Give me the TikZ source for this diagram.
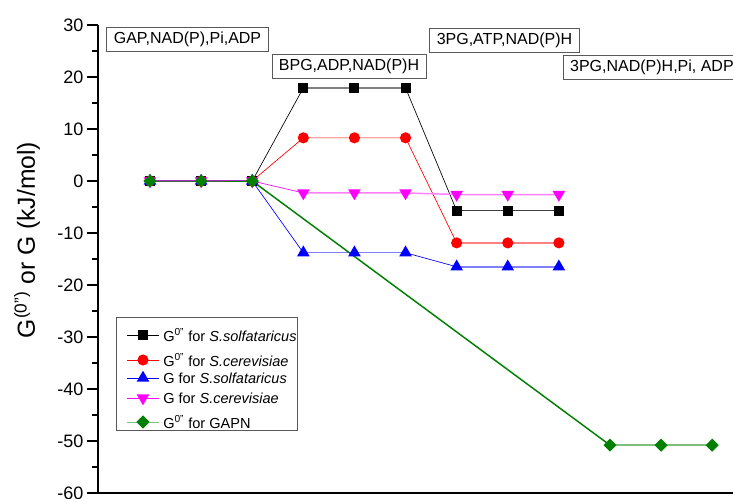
\documentclass[tikz,border=0pt]{standalone}
\usepackage{fontspec}
\setmainfont{Liberation Sans}
\usetikzlibrary{shapes.geometric}

\definecolor{verde}{RGB}{0,128,0}
\definecolor{magenta2}{RGB}{255,0,255}

\tikzset{
  mk/.style={inner sep=0pt, draw=none, fill=#1},
  sqmk/.style={mk=black, rectangle, minimum size=7.5pt},
  cimk/.style={mk=red, circle, minimum size=8.4pt},
  upmk/.style={mk=blue, regular polygon, regular polygon sides=3, minimum size=11pt},
  dnmk/.style={mk=magenta2, regular polygon, regular polygon sides=3, shape border rotate=180, minimum size=11pt},
  dimk/.style={mk=verde, diamond, minimum size=10pt},
  salto/.style={line width=0.5pt, draw=#1},
  nivel/.style={line width=1.1pt, draw=#1!50},
  eje/.style={line width=1.3pt, black},
  numero/.style={inner sep=1pt, font=\fontsize{13.5}{16}\selectfont},
  caja/.style={draw=black!65, line width=0.7pt, inner xsep=5pt, minimum height=18pt,
    font=\fontsize{12}{14}\selectfont},
  leyenda/.style={inner sep=0pt, anchor=west, font=\fontsize{10.9}{12}\selectfont}
}

\begin{document}
\begin{tikzpicture}[
  x=0.75pt,
  y=-0.75pt
]
\useasboundingbox (0,0) rectangle (733,499);
\clip (0,0) rectangle (733,499);

%--------------------
% Ejes
%--------------------
\draw[eje] (98,25) -- (98,493) -- (745,493);
\foreach \v [count=\k] in {-60,-50,...,30} {
  \draw[eje] (98,{181-5.2*\v}) -- (87,{181-5.2*\v});
  \node[numero, anchor=east] (ty\k) at (85,{181-5.2*\v}) {\v};
}
\foreach \v in {-55,-45,...,25} {
  \draw[eje] (98,{181-5.2*\v}) -- (92,{181-5.2*\v});
}
\node[rotate=90, font=\fontsize{18.5}{22}\selectfont] (ylab) at (27,240)
  {G\textsuperscript{(0")} or G (kJ/mol)};

%--------------------
% Datos (indice, kJ/mol)
%--------------------
\begin{scope}[shift={(98.9,181)}, x=38.33pt, y=3.9pt]
\foreach \i/\v in {1/0,2/0,3/0,4/17.9,5/17.9,6/17.9,7/-5.7,8/-5.7,9/-5.7}
  \coordinate (bk\i) at (\i,\v);
\foreach \i/\v in {1/0,2/0,3/0,4/8.3,5/8.3,6/8.3,7/-11.9,8/-11.9,9/-11.9}
  \coordinate (rd\i) at (\i,\v);
\foreach \i/\v in {1/0,2/0,3/0,4/-13.8,5/-13.8,6/-13.8,7/-16.5,8/-16.5,9/-16.5}
  \coordinate (bl\i) at (\i,\v);
\foreach \i/\v in {1/0,2/0,3/0,4/-2.3,5/-2.3,6/-2.3,7/-2.6,8/-2.6,9/-2.6}
  \coordinate (mg\i) at (\i,\v);
\foreach \i/\v in {1/0,2/0,3/0,10/-50.8,11/-50.8,12/-50.8}
  \coordinate (gn\i) at (\i,\v);
\end{scope}

% lineas
\draw[salto=black] (bk1) -- (bk2) -- (bk3) -- (bk4);
\draw[nivel=black] (bk4) -- (bk5) -- (bk6);
\draw[salto=black] (bk6) -- (bk7);
\draw[line width=0.8pt, black!75] (bk7) -- (bk8) -- (bk9);

\draw[salto=red] (rd1) -- (rd2) -- (rd3) -- (rd4) -- (rd5) -- (rd6) -- (rd7);
\draw[nivel=red] (rd7) -- (rd8) -- (rd9);

\draw[salto=blue] (bl1) -- (bl2) -- (bl3) -- (bl4);
\draw[nivel=blue] (bl4) -- (bl5) -- (bl6);
\draw[salto=blue] (bl6) -- (bl7);
\draw[nivel=blue] (bl7) -- (bl8) -- (bl9);

\draw[salto=magenta2] (mg1) -- (mg2) -- (mg3) -- (mg4);
\draw[nivel=magenta2] (mg4) -- (mg5) -- (mg6) -- (mg7) -- (mg8) -- (mg9);

\draw[salto=verde] (gn1) -- (gn2) -- (gn3);
\draw[line width=1.1pt, verde] (gn3) -- (gn10);
\draw[nivel=verde] (gn10) -- (gn11) -- (gn12);

% marcadores
\foreach \i in {1,...,9} \node[sqmk] (bkm\i) at (bk\i) {};
\foreach \i in {1,...,9} \node[cimk] (rdm\i) at (rd\i) {};
\foreach \i in {1,...,9} \node[upmk] (blm\i) at (bl\i) {};
\foreach \i in {1,...,9} \node[dnmk] (mgm\i) at (mg\i) {};
\foreach \i in {1,2,3,10,11,12} \node[dimk] (gnm\i) at (gn\i) {};

%--------------------
% Cajas de especies
%--------------------
\node[caja, minimum width=122pt] (c1) at (187.5,39) {GAP,NAD(P),Pi,ADP};
\node[caja, minimum width=115.5pt] (c2) at (349,66.5) {BPG,ADP,NAD(P)H};
\node[caja, minimum width=112pt] (c3) at (504.5,40.5) {3PG,ATP,NAD(P)H};
\node[caja, anchor=west] (c4) at (563,67.5) {3PG,NAD(P)H,Pi, ADP};

%--------------------
% Leyenda
%--------------------
\draw[black!65, line width=0.7pt, fill=white] (116,317) rectangle (297,430);
\foreach \yy/\mk/\col/\txt [count=\k] in {
  335/sqmk/black/{G\textsuperscript{0"} for \textit{S.solfataricus}},
  360/cimk/red/{G\textsuperscript{0"} for \textit{S.cerevisiae}},
  378/upmk/blue/{G for \textit{S.solfataricus}},
  398/dnmk/magenta2/{G for \textit{S.cerevisiae}},
  422/dimk/verde!50/{G\textsuperscript{0"} for GAPN}} {
  \coordinate (la\k) at (127,\yy);
  \coordinate (lb\k) at (159,\yy);
  \draw[line width=0.6pt, \col] (la\k) -- (lb\k);
  \node[\mk] (lm\k) at (143,\yy) {};
  \node[leyenda] (lt\k) at (163,\yy) {\txt};
}

\end{tikzpicture}
\end{document}
